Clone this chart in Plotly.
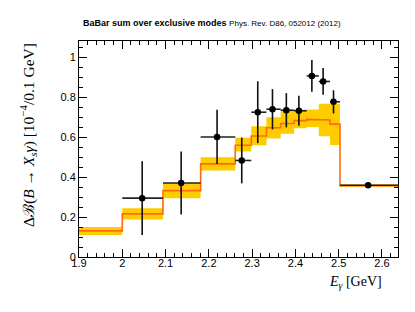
import plotly.graph_objects as go

# Bin edges of the prediction histogram (E_gamma, GeV)
bin_edges = [1.897, 2.000, 2.094, 2.181, 2.261, 2.298, 2.333, 2.366, 2.397, 2.426, 2.454, 2.480, 2.503, 2.640]
# Prediction central values and band limits per bin
pred_central = [0.131, 0.216, 0.333, 0.467, 0.560, 0.607, 0.648, 0.669, 0.684, 0.690, 0.687, 0.666, 0.358]
pred_upper = [0.150, 0.245, 0.371, 0.500, 0.598, 0.655, 0.701, 0.738, 0.738, 0.740, 0.768, 0.768, 0.364]
pred_lower = [0.110, 0.188, 0.295, 0.434, 0.529, 0.560, 0.594, 0.618, 0.645, 0.652, 0.606, 0.562, 0.352]

# BaBar data points
data_x = [2.046, 2.136, 2.219, 2.276, 2.313, 2.347, 2.379, 2.408, 2.438, 2.464, 2.488, 2.568]
data_y = [0.295, 0.371, 0.602, 0.484, 0.726, 0.741, 0.736, 0.733, 0.908, 0.880, 0.778, 0.360]
data_err = [0.185, 0.158, 0.136, 0.115, 0.155, 0.101, 0.086, 0.075, 0.080, 0.067, 0.058, 0.005]
data_bin_lo = bin_edges[1:13]
data_bin_hi = bin_edges[2:14]

x_ticks = [1.9, 2.0, 2.1, 2.2, 2.3, 2.4, 2.5, 2.6]
x_ticklabels = ["1.9", "2", "2.1", "2.2", "2.3", "2.4", "2.5", "2.6"]
y_ticks = [0, 0.2, 0.4, 0.6, 0.8, 1.0]
y_ticklabels = ["0", "0.2", "0.4", "0.6", "0.8", "1"]

# band polygon (stepped)
bx, by = [], []
for i in range(len(pred_upper)):
    bx += [bin_edges[i], bin_edges[i + 1]]
    by += [pred_upper[i], pred_upper[i]]
for i in reversed(range(len(pred_lower))):
    bx += [bin_edges[i + 1], bin_edges[i]]
    by += [pred_lower[i], pred_lower[i]]

# central step line
lx, ly = [], []
for i in range(len(pred_central)):
    lx += [bin_edges[i], bin_edges[i + 1]]
    ly += [pred_central[i], pred_central[i]]

fig = go.Figure()
fig.add_trace(go.Scatter(x=bx, y=by, fill="toself", fillcolor="#FFCC00",
                         line=dict(width=0), mode="lines", hoverinfo="skip", showlegend=False))
fig.add_trace(go.Scatter(x=lx, y=ly, mode="lines", line=dict(color="#FF6A10", width=1.6),
                         showlegend=False))
fig.add_trace(go.Scatter(
    x=data_x, y=data_y, mode="markers",
    marker=dict(color="black", size=6.5),
    error_y=dict(type="data", array=data_err, color="#111111", thickness=1.6, width=0),
    error_x=dict(type="data",
                 array=[h - x for h, x in zip(data_bin_hi, data_x)],
                 arrayminus=[x - l for l, x in zip(data_bin_lo, data_x)],
                 color="#222222", thickness=1.6, width=0),
    showlegend=False))

axis_common = dict(showline=True, linecolor="black", linewidth=1, mirror="allticks",
                   ticks="inside", tickcolor="black", showgrid=False, zeroline=False,
                   tickfont=dict(family="Liberation Sans, Arial, sans-serif", size=11, color="black"))

fig.update_xaxes(range=[1.9, 2.637], tickvals=x_ticks, ticktext=x_ticklabels, ticklen=8,
                 ticklabelstandoff=-4,
                 minor=dict(ticks="inside", dtick=0.02, ticklen=4, tickcolor="black", showgrid=False),
                 **axis_common)
fig.update_yaxes(range=[0, 1.083], tickvals=y_ticks, ticktext=y_ticklabels, ticklen=8,
                 minor=dict(ticks="inside", dtick=0.05, ticklen=4, tickcolor="black", showgrid=False),
                 **axis_common)

fig.update_layout(
    width=415, height=312,
    margin=dict(l=71, r=25, t=33, b=63),
    plot_bgcolor="white", paper_bgcolor="white",
    annotations=[
        dict(text="<b>BaBar sum over exclusive modes</b> <span style='font-size:8px'>Phys. Rev. D86, 052012 (2012)</span>",
             xref="paper", yref="paper", x=(73 - 71) / 319, y=1 + 18 / 216,
             xanchor="left", yanchor="middle", showarrow=False,
             font=dict(family="Liberation Sans, Arial, sans-serif", size=9, color="black")),
        dict(text="<i>E</i><sub><i>γ</i></sub> [GeV]",
             xref="paper", yref="paper", x=(376 - 71) / 319, y=-(274 - 249) / 216,
             xanchor="right", yanchor="middle", showarrow=False,
             font=dict(family="Liberation Serif, Times New Roman, serif", size=14, color="black")),
        dict(text="Δℬ(<i>B</i> → <i>X</i><sub><i>s</i></sub><i>γ</i>) [10<sup>−4</sup>/0.1 GeV]",
             xref="paper", yref="paper", x=(20 - 71) / 319, y=1.0,
             xanchor="center", yanchor="top", textangle=-90, showarrow=False,
             font=dict(family="Liberation Serif, Times New Roman, serif", size=15.5, color="black")),
    ],
)

fig.write_html("out.html")
